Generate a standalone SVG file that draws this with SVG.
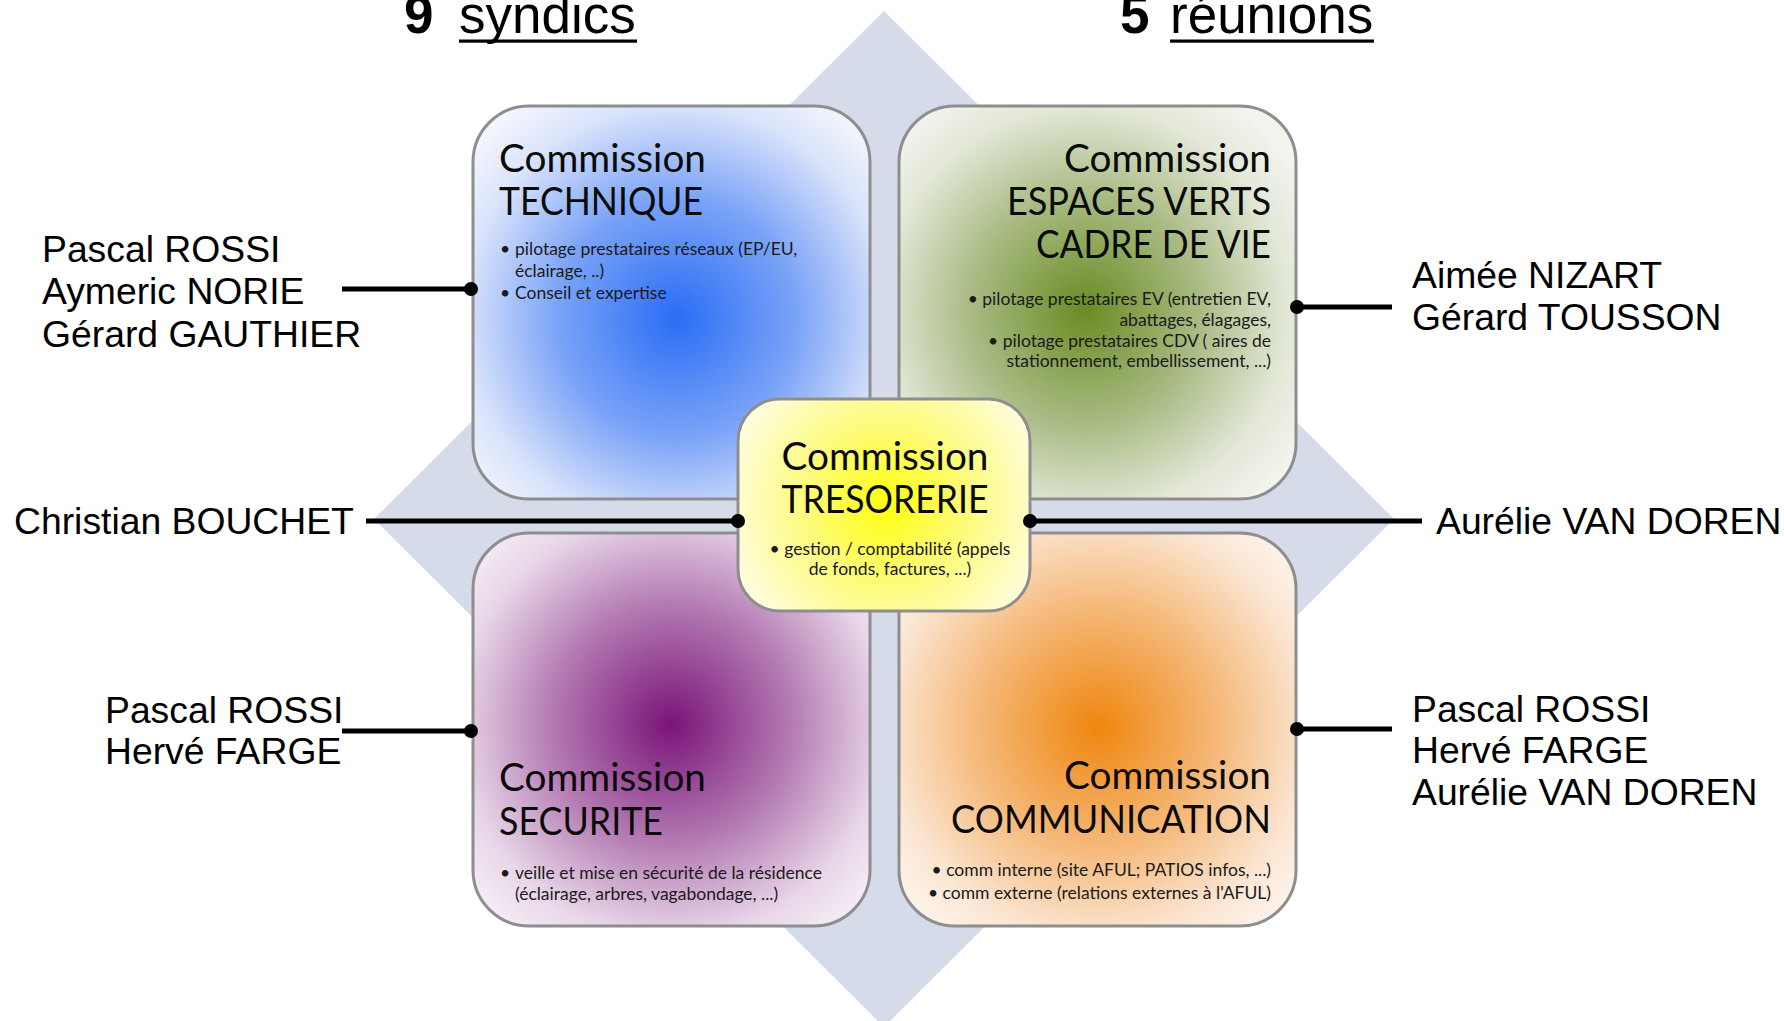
<svg xmlns="http://www.w3.org/2000/svg" width="1784" height="1021" viewBox="0 0 1784 1021">
<style>
.name{font-family:"Liberation Sans",Arial,sans-serif;font-size:37.3px;fill:#000}
.head{font-family:Lato,"Open Sans",sans-serif;font-size:38px;fill:#0a0a0a}
.bul{font-family:Lato,"Open Sans",sans-serif;font-size:17.5px;fill:#1a1a1a}
.box{stroke:#8e8e8e;stroke-width:3}
.conn{stroke:#000;stroke-width:5;fill:none;marker-end:url(#dot)}
.big{font-family:"Liberation Sans",Arial,sans-serif;font-size:53px;fill:#000}
</style>
<defs>
<marker id="dot" markerUnits="userSpaceOnUse" markerWidth="16" markerHeight="16" refX="8" refY="8" orient="auto">
<circle cx="8" cy="8" r="7" fill="#000"/>
</marker>
<radialGradient id="gBlue" gradientUnits="userSpaceOnUse" cx="677" cy="318" r="265">
<stop offset="0" stop-color="#2a6df5"/><stop offset="0.45" stop-color="#7aa3f7"/><stop offset="0.8" stop-color="#d9e3fb"/><stop offset="1" stop-color="#f4f6fd"/>
</radialGradient>
<radialGradient id="gGreen" gradientUnits="userSpaceOnUse" cx="1085" cy="310" r="255">
<stop offset="0" stop-color="#6a8c22"/><stop offset="0.45" stop-color="#a9bb84"/><stop offset="0.8" stop-color="#e3e8d8"/><stop offset="1" stop-color="#f3f4ee"/>
</radialGradient>
<radialGradient id="gPurple" gradientUnits="userSpaceOnUse" cx="671" cy="724" r="265">
<stop offset="0" stop-color="#7a1479"/><stop offset="0.45" stop-color="#b37ab2"/><stop offset="0.8" stop-color="#e8d6e8"/><stop offset="1" stop-color="#f6eff6"/>
</radialGradient>
<radialGradient id="gOrange" gradientUnits="userSpaceOnUse" cx="1098" cy="727" r="265">
<stop offset="0" stop-color="#ef860e"/><stop offset="0.45" stop-color="#f5b878"/><stop offset="0.8" stop-color="#fbe6d3"/><stop offset="1" stop-color="#fdf5ee"/>
</radialGradient>
<radialGradient id="gYellow" gradientUnits="userSpaceOnUse" cx="887" cy="505" r="170">
<stop offset="0" stop-color="#ffff10"/><stop offset="0.5" stop-color="#fdfb80"/><stop offset="1" stop-color="#fefde8"/>
</radialGradient>
</defs>

<rect width="1784" height="1021" fill="#fff"/>

<g id="title-left">
<text class="big" x="404" y="33" font-weight="bold" font-size="58">9</text>
<text class="big" x="459" y="33">syndics</text>
<rect x="459" y="39.5" width="178" height="3.2" fill="#000"/>
</g>
<g id="title-right">
<text class="big" x="1120" y="33" font-weight="bold" font-size="58">5</text>
<text class="big" x="1170" y="33">réunions</text>
<rect x="1170" y="39.5" width="204" height="3.2" fill="#000"/>
</g>

<polygon id="diamond" points="884,11 1394,519 884,1027 374,519" fill="#d5dbe9"/>

<g id="technique">
<rect class="box" x="473" y="106" width="397" height="393" rx="56" fill="url(#gBlue)"/>
<text class="head" x="499" y="172" textLength="207" lengthAdjust="spacingAndGlyphs">Commission</text>
<text class="head" x="499" y="215" textLength="204" lengthAdjust="spacingAndGlyphs">TECHNIQUE</text>
<text class="bul" x="500" y="255">•</text>
<text class="bul" x="515" y="255">pilotage prestataires réseaux (EP/EU,</text>
<text class="bul" x="515" y="277">éclairage, ..)</text>
<text class="bul" x="500" y="299">•</text>
<text class="bul" x="515" y="299">Conseil et expertise</text>
</g>

<g id="espaces-verts">
<rect class="box" x="899" y="106" width="397" height="393" rx="56" fill="url(#gGreen)"/>
<g text-anchor="end">
<text class="head" x="1271" y="172" textLength="207" lengthAdjust="spacingAndGlyphs">Commission</text>
<text class="head" x="1271" y="215" textLength="264" lengthAdjust="spacingAndGlyphs">ESPACES VERTS</text>
<text class="head" x="1271" y="258" textLength="235" lengthAdjust="spacingAndGlyphs">CADRE DE VIE</text>
<text class="bul" x="1271" y="305">• pilotage prestataires EV (entretien EV,</text>
<text class="bul" x="1271" y="326">abattages, élagages,</text>
<text class="bul" x="1271" y="347">• pilotage prestataires CDV ( aires de</text>
<text class="bul" x="1271" y="367">stationnement, embellissement, ...)</text>
</g>
</g>

<g id="securite">
<rect class="box" x="473" y="533" width="397" height="393" rx="56" fill="url(#gPurple)"/>
<text class="head" x="499" y="791" textLength="207" lengthAdjust="spacingAndGlyphs">Commission</text>
<text class="head" x="499" y="835" textLength="164" lengthAdjust="spacingAndGlyphs">SECURITE</text>
<text class="bul" x="500" y="879">•</text>
<text class="bul" x="515" y="879">veille et mise en sécurité de la résidence</text>
<text class="bul" x="515" y="900">(éclairage, arbres, vagabondage, ...)</text>
</g>

<g id="communication">
<rect class="box" x="899" y="533" width="397" height="393" rx="56" fill="url(#gOrange)"/>
<g text-anchor="end">
<text class="head" x="1271" y="789" textLength="207" lengthAdjust="spacingAndGlyphs">Commission</text>
<text class="head" x="1271" y="833" textLength="320" lengthAdjust="spacingAndGlyphs">COMMUNICATION</text>
<text class="bul" x="1271" y="876">• comm interne (site AFUL; PATIOS infos, ...)</text>
<text class="bul" x="1271" y="899">• comm externe (relations externes à l'AFUL)</text>
</g>
</g>

<g id="tresorerie">
<rect class="box" x="738" y="399" width="292" height="212" rx="42" fill="url(#gYellow)"/>
<g text-anchor="middle">
<text class="head" x="885" y="470" textLength="207" lengthAdjust="spacingAndGlyphs">Commission</text>
<text class="head" x="885" y="513" textLength="207" lengthAdjust="spacingAndGlyphs">TRESORERIE</text>
<text class="bul" x="890" y="555">• gestion / comptabilité (appels</text>
<text class="bul" x="890" y="575">de fonds, factures, ...)</text>
</g>
</g>

<g id="connectors">
<line class="conn" x1="342" y1="289" x2="471" y2="289"/>
<line class="conn" x1="1392" y1="307" x2="1297" y2="307"/>
<line class="conn" x1="366" y1="521" x2="738" y2="521"/>
<line class="conn" x1="1422" y1="521" x2="1030" y2="521"/>
<line class="conn" x1="342" y1="731" x2="471" y2="731"/>
<line class="conn" x1="1392" y1="729" x2="1297" y2="729"/>
</g>

<g id="members-technique">
<text class="name" x="42" y="262">Pascal ROSSI</text>
<text class="name" x="42" y="304">Aymeric NORIE</text>
<text class="name" x="42" y="347">Gérard GAUTHIER</text>
</g>
<g id="members-espaces-verts">
<text class="name" x="1412" y="288">Aimée NIZART</text>
<text class="name" x="1412" y="330">Gérard TOUSSON</text>
</g>
<g id="members-tresorerie-left">
<text class="name" x="14" y="534">Christian BOUCHET</text>
</g>
<g id="members-tresorerie-right">
<text class="name" x="1436" y="534">Aurélie VAN DOREN</text>
</g>
<g id="members-securite">
<text class="name" x="105" y="723">Pascal ROSSI</text>
<text class="name" x="105" y="764">Hervé FARGE</text>
</g>
<g id="members-communication">
<text class="name" x="1412" y="722">Pascal ROSSI</text>
<text class="name" x="1412" y="763">Hervé FARGE</text>
<text class="name" x="1412" y="805">Aurélie VAN DOREN</text>
</g>
</svg>
